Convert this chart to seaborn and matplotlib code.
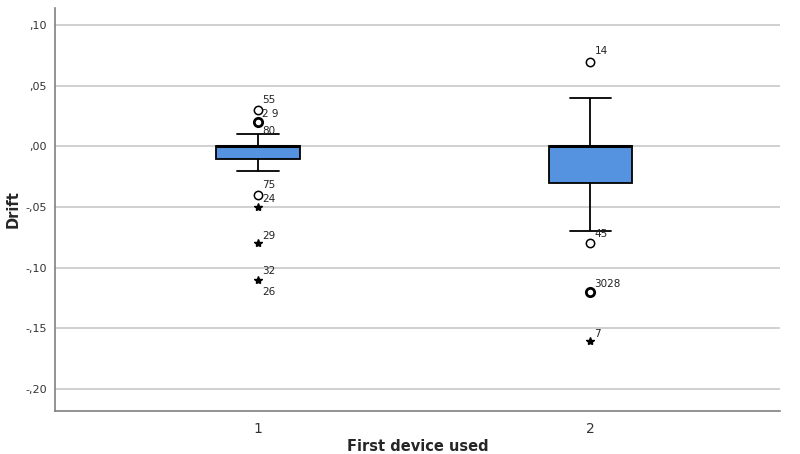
import numpy as np
import pandas as pd
import seaborn as sns
import matplotlib.pyplot as plt
from matplotlib.ticker import FuncFormatter

# Five-number summaries per group: whisker low, Q1, median, Q3, whisker high
groups = ["1", "2"]
summary_1 = [-0.02, -0.01, 0.00, 0.00, 0.01]
summary_2 = [-0.07, -0.03, 0.00, 0.00, 0.04]

# Outliers (circles) and extremes (stars)
circ_group = ["1", "1", "1", "2", "2", "2"]
circ_vals = [0.03, 0.02, -0.04, 0.07, -0.08, -0.12]
circ_bold = [False, True, False, False, False, True]
star_group = ["1", "1", "1", "2"]
star_vals = [-0.05, -0.08, -0.11, -0.16]

# Case labels
lab_group = ["1", "1", "1", "1", "1", "1", "1", "1", "2", "2", "2", "2"]
lab_text = ["55", "2 9", "80", "75", "24", "29", "32", "26", "14", "45", "3028", "7"]
lab_y = [0.038, 0.027, 0.0124, -0.032, -0.043, -0.0735, -0.103, -0.12, 0.0785, -0.072, -0.113, -0.1545]

yticks = [0.10, 0.05, 0.00, -0.05, -0.10, -0.15, -0.20]

sns.set_style("white")
fig = plt.figure(figsize=(8, 4.54), dpi=100)
ax = fig.add_axes([0.069, 0.095, 0.906, 0.887])

for v in yticks:
    ax.axhline(v, color="#c8c8c8", lw=1.2, zorder=0)

df = pd.DataFrame({
    "g": ["1"] * len(summary_1) + ["2"] * len(summary_2),
    "v": summary_1 + summary_2,
})
sns.boxplot(data=df, x="g", y="v", order=groups, whis=np.inf, width=0.25,
            color="#5593e0", saturation=1, linecolor="black", linewidth=1.3,
            medianprops=dict(color="black", lw=2.2),
            capprops=dict(color="black", lw=1.3),
            whiskerprops=dict(color="black", lw=1.3),
            boxprops=dict(edgecolor="black", lw=1.3),
            showfliers=False, ax=ax, zorder=3)

pos = {g: i for i, g in enumerate(groups)}
for g, v, b in zip(circ_group, circ_vals, circ_bold):
    ax.plot(pos[g], v, marker="o", ms=6, mfc="white", mec="black",
            mew=2.0 if b else 1.1, ls="none", zorder=4)
for g, v in zip(star_group, star_vals):
    ax.plot(pos[g], v, marker="*", ms=6, color="black", ls="none", zorder=4)
for g, t, y in zip(lab_group, lab_text, lab_y):
    ax.text(pos[g] + 0.012, y, t, fontsize=7.5, color="#222222",
            ha="left", va="center", zorder=5)

ax.set_xlim(-0.61, 1.57)
ax.set_ylim(-0.218, 0.114)
ax.set_yticks(yticks)
ax.yaxis.set_major_formatter(FuncFormatter(
    lambda v, p: ("-" if v < -1e-9 else "") + "," + f"{abs(v):.2f}".split(".")[1]))
ax.tick_params(axis="y", labelsize=8, colors="#333333", length=0, pad=6)
ax.tick_params(axis="x", labelsize=10, colors="#333333", length=0, pad=8)
ax.set_xlabel("First device used", fontsize=10.5, fontweight="bold", labelpad=2)
ax.set_ylabel("Drift", fontsize=10.5, fontweight="bold", labelpad=3)
for s in ["top", "right"]:
    ax.spines[s].set_visible(False)
for s in ["left", "bottom"]:
    ax.spines[s].set_color("#808080")
    ax.spines[s].set_linewidth(1.2)

fig.savefig("out.png", dpi=100)
